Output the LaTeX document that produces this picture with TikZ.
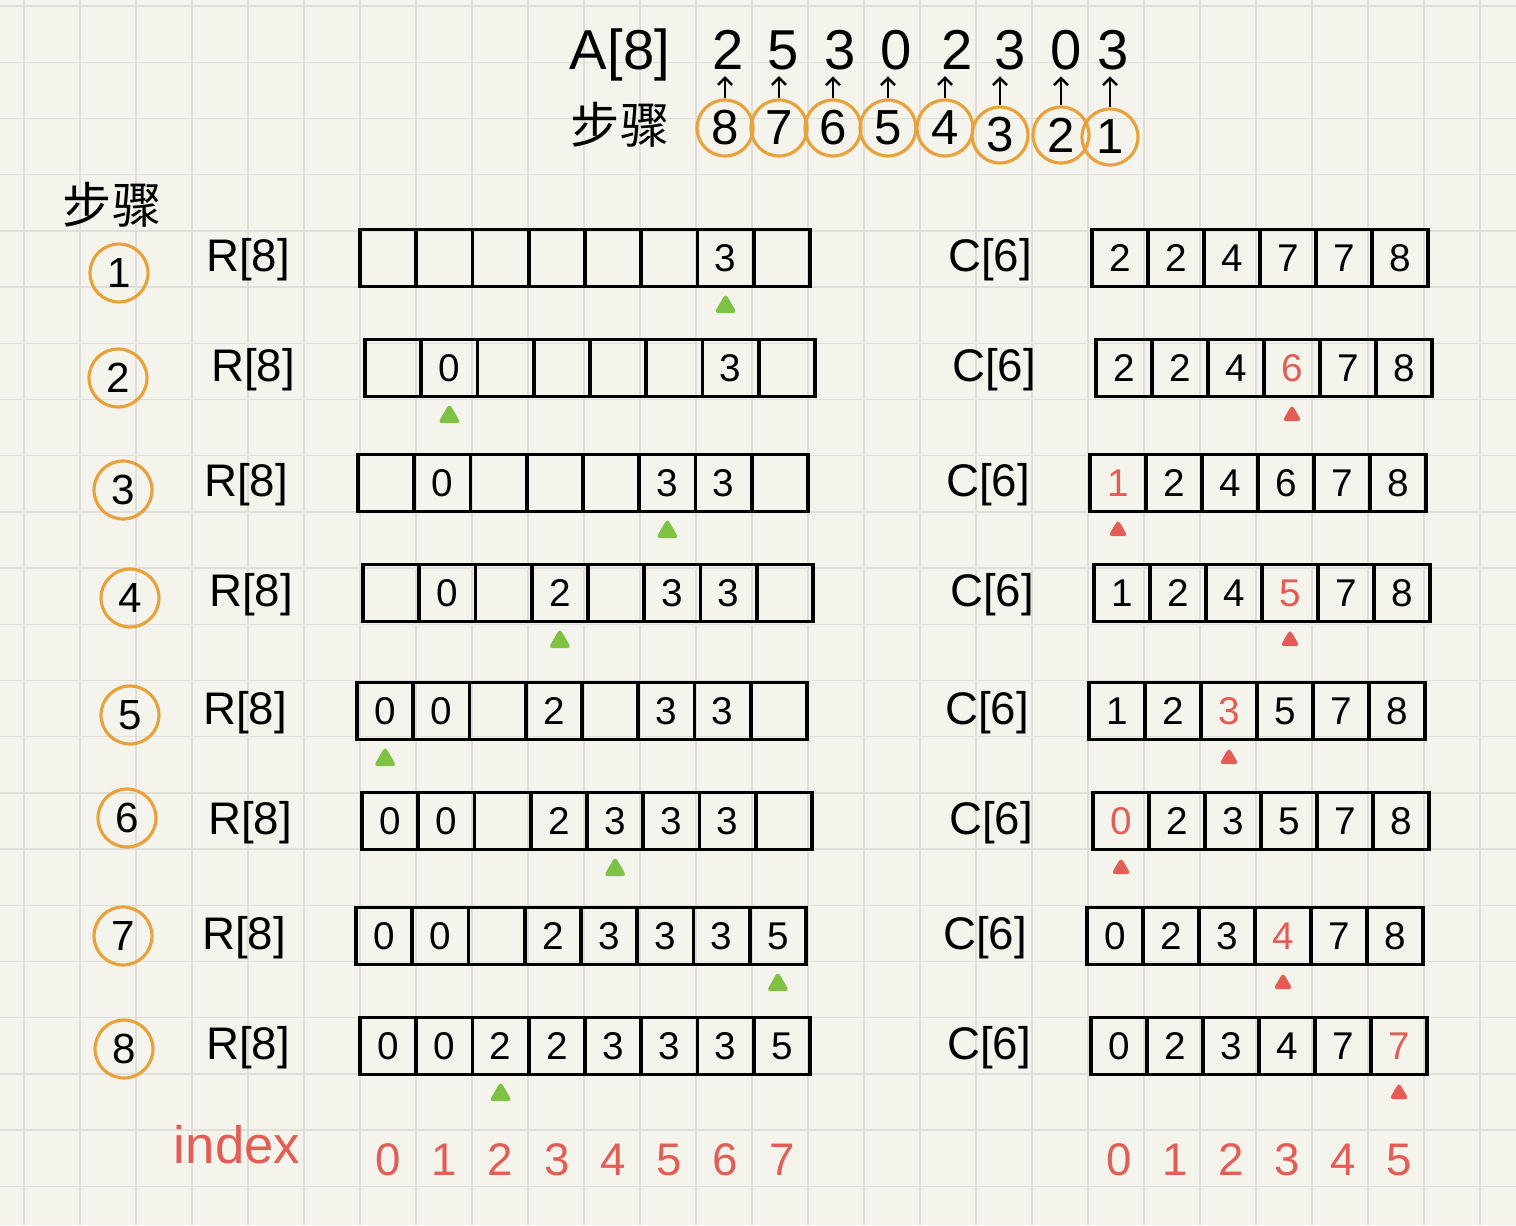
\documentclass[tikz,border=0pt]{standalone}
\usepackage{fontspec}
\setmainfont{Liberation Sans}
\newfontfamily\cjk{Noto Sans CJK SC}
\usetikzlibrary{shapes.geometric,arrows.meta,positioning}

\definecolor{paper}{HTML}{F5F4EC}
\definecolor{gridgray}{HTML}{DEDEDB}
\definecolor{stepor}{HTML}{E9A23B}
\definecolor{markgreen}{HTML}{7DC243}
\definecolor{hlred}{HTML}{E35D55}

\tikzset{
  gridline/.style={gridgray, line width=0.8pt},
  cell/.style={draw, line width=2.2pt, minimum width=1.125cm, minimum height=1.14cm, inner sep=0pt, font=\fontsize{22}{24}\selectfont},
  stepnum/.style={draw=stepor, circle, line width=1.8pt, inner sep=0pt, minimum size=1.16cm, font=\fontsize{24}{26}\selectfont},
  topstep/.style={stepnum, minimum size=1.12cm, font=\fontsize{28}{30}\selectfont},
  arrlabel/.style={font=\fontsize{26}{28}\selectfont},
  topdigit/.style={inner sep=0pt, font=\fontsize{32}{34}\selectfont},
  uparr/.style={-{Straight Barb[length=4pt,width=8pt]}, line width=1.4pt, shorten <=0pt, shorten >=3.5pt},
  gmark/.style={regular polygon, regular polygon sides=3, fill=markgreen, draw=markgreen, rounded corners=2pt, inner sep=0pt, minimum size=0.5cm},
  rmark/.style={gmark, fill=hlred, draw=hlred, minimum size=0.42cm},
  idx/.style={text=hlred, font=\fontsize{26}{28}\selectfont},
  cjklabel/.style={font=\cjk\fontsize{28}{30}\selectfont},
}

\begin{document}
\begin{tikzpicture}[x=0.02cm, y=-0.02cm]
	% paper and grid
	\fill[paper] (0,0) rectangle (1516,1225);
	\useasboundingbox (0,0) rectangle (1516,1225);
	\foreach \gx in {24,80,...,1516}
		\draw[gridline] (\gx,0) -- (\gx,1225);
	\foreach \gy in {6,62.2,...,1225}
		\draw[gridline] (0,\gy) -- (1516,\gy);

	% input array and step order
	\node[topdigit] (alab) at (620,55) {A[8]};
	\node[cjklabel] (toplab) at (620,125) {步骤};
	\foreach \v/\ax [count=\k from 0] in {2/728,5/783,3/840,0/896,2/957,3/1010,0/1066,3/1113}
		\node[topdigit] (a\k) at (\ax,50) {\v};
	\foreach \s/\sx/\sy [count=\k from 0] in {8/725/128,7/779/128,6/833/128,5/888/128,4/945/128,3/1000/135,2/1061/135,1/1110/137} {
		\node[topstep] (t\s) at (\sx,\sy) {\s};
		\draw[uparr] (t\s.north) -- (t\s.north |- a\k.south);
	}

	\node[cjklabel] (leftlab) at (112,205) {步骤};

	% R rows
	\foreach \i/\x/\y/\m/\cx/\cy/\vals in {
		1/360/258/6/119/273/{{},{},{},{},{},{},3,{}},
		2/365/368/1/118/378/{{},0,{},{},{},{},3,{}},
		3/358/483/5/123/490/{{},0,{},{},{},3,3,{}},
		4/363/593/3/130/598/{{},0,{},2,{},3,3,{}},
		5/357/711/0/130/715/{0,0,{},2,{},3,3,{}},
		6/362/821/4/127/818/{0,0,{},2,3,3,3,{}},
		7/356/936/7/123/936/{0,0,{},2,3,3,3,5},
		8/360/1046/2/124/1049/{0,0,2,2,3,3,3,5}} {
		\node[stepnum] (s\i) at (\cx,\cy) {\i};
		\node[arrlabel] (rl\i) at (\x-112,\y+2) {R[8]};
		\foreach \v [count=\k from 0] in \vals
			\node[cell] (r\i\k) at (\x+28.125+\k*56.25,\y) {\v};
		\node[gmark, below=0.1cm of r\i\m] (gm\i) {};
	}

	% C rows
	\foreach \i/\x/\y/\h/\vals in {
		1/1092/258/-1/{2,2,4,7,7,8},
		2/1096/368/3/{2,2,4,6,7,8},
		3/1090/483/0/{1,2,4,6,7,8},
		4/1094/593/3/{1,2,4,5,7,8},
		5/1089/711/2/{1,2,3,5,7,8},
		6/1093/821/0/{0,2,3,5,7,8},
		7/1087/936/3/{0,2,3,4,7,8},
		8/1091/1046/5/{0,2,3,4,7,7}} {
		\node[arrlabel] (cl\i) at (\x-102,\y+2) {C[6]};
		\foreach \v [count=\k from 0] in \vals {
			\ifnum\k=\h\relax\def\col{hlred}\else\def\col{black}\fi
			\node[cell, text=\col] (c\i\k) at (\x+28+\k*56,\y) {\v};
		}
		\ifnum\h>-1\relax
			\node[rmark, below=0.12cm of c\i\h] (rm\i) {};
		\fi
	}

	% indices
	\node[idx, font=\fontsize{30}{32}\selectfont] (idxlab) at (237,1145) {index};
	\foreach \k in {0,...,7}
		\node[idx] (ri\k) at (388+\k*56.25,1160) {\k};
	\foreach \k in {0,...,5}
		\node[idx] (ci\k) at (1119+\k*56,1160) {\k};
\end{tikzpicture}
\end{document}
